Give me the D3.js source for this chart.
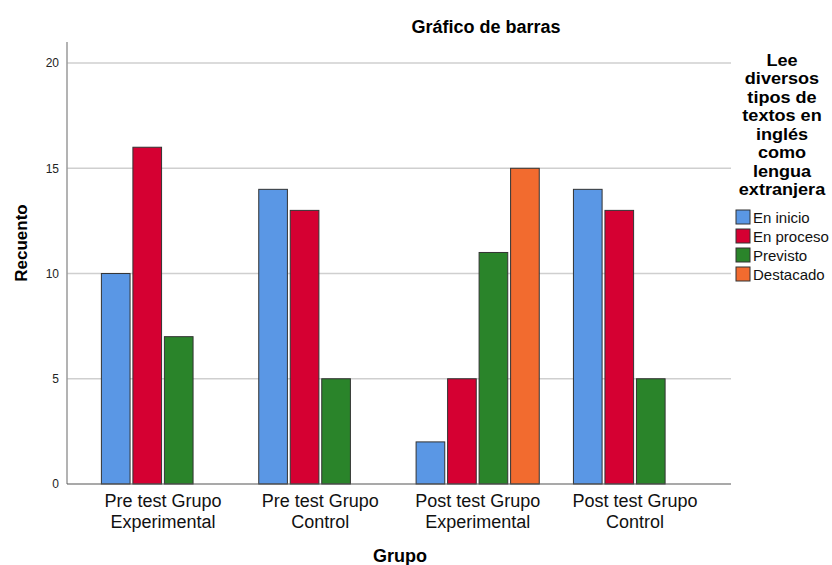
<!DOCTYPE html>
<html><head><meta charset="utf-8">
<script src="https://cdn.jsdelivr.net/npm/d3@7"></script>
<style>body{margin:0;background:#fff}svg{display:block;font-family:"Liberation Sans",Arial,sans-serif}</style>
</head><body><svg id="c" width="832" height="565"></svg>
<script>
const categories = [["Pre test Grupo","Experimental"],["Pre test Grupo","Control"],["Post test Grupo","Experimental"],["Post test Grupo","Control"]];
const seriesNames = ["En inicio","En proceso","Previsto","Destacado"];
const enInicio = [10,14,2,14];
const enProceso = [16,13,5,13];
const previsto = [7,5,11,5];
const destacado = [null,null,15,null];
const seriesValues = [enInicio,enProceso,previsto,destacado];
const colors = ["#5A97E5","#D50032","#2A842A","#F26B2F"];
const yTicks = [0,5,10,15,20];
const legendTitle = ["Lee","diversos","tipos de","textos en","inglés","como","lengua","extranjera"];

const svg = d3.select("#c");
const L=67, R=731, T=42, B=484;
const y = d3.scaleLinear().domain([0,21]).range([B,T]);
const x = d3.scalePoint().domain(d3.range(categories.length)).range([L,R]).padding(0.61);
const slot = d3.scaleBand().domain(d3.range(4)).range([-63,63]).paddingInner(0.09).paddingOuter(0.045);

// gridlines
svg.append("g").selectAll("line").data(yTicks.filter(d=>d>0)).join("line")
  .attr("x1",L).attr("x2",R).attr("y1",d=>y(d)).attr("y2",d=>y(d))
  .attr("stroke","#cfcfcf").attr("stroke-width",1.5);

// y axis
const ya = svg.append("g").attr("transform",`translate(${L},0)`)
  .call(d3.axisLeft(y).tickValues(yTicks).tickSize(0).tickPadding(8));
ya.select(".domain").remove();
ya.selectAll("text").attr("font-size",12).attr("fill","#222").attr("font-family","Liberation Sans, Arial");
svg.append("line").attr("x1",L).attr("x2",L).attr("y1",T).attr("y2",B).attr("stroke","#9a9a9a").attr("stroke-width",1.5);

// bars
const bars=[];
seriesValues.forEach((vals,si)=>vals.forEach((v,ci)=>{ if(v!=null) bars.push({si,ci,v}); }));
svg.append("g").selectAll("rect").data(bars).join("rect")
  .attr("x",d=>x(d.ci)+slot(d.si)).attr("width",slot.bandwidth())
  .attr("y",d=>y(d.v)).attr("height",d=>y(0)-y(d.v))
  .attr("fill",d=>colors[d.si]).attr("stroke","#333").attr("stroke-width",1);

// x axis line
svg.append("line").attr("x1",L).attr("x2",R).attr("y1",B).attr("y2",B).attr("stroke","#555").attr("stroke-width",1.2);

// category labels
const xl = svg.append("g");
categories.forEach((c,i)=>{
  const t = xl.append("text").attr("text-anchor","middle").attr("font-size",18).attr("fill","#111");
  c.forEach((line,j)=>t.append("tspan").attr("x",x(i)).attr("y",507+j*21).text(line));
});

// axis titles
svg.append("text").attr("x",400).attr("y",562).attr("text-anchor","middle").attr("font-size",18).attr("font-weight","bold").text("Grupo");
svg.append("text").attr("transform","translate(27,243) rotate(-90)").attr("text-anchor","middle").attr("font-size",17).attr("font-weight","bold").text("Recuento");
svg.append("text").attr("x",486).attr("y",33).attr("text-anchor","middle").attr("font-size",18).attr("font-weight","bold").text("Gráfico de barras");

// legend
const ltg = svg.append("g").attr("transform","translate(782,0) scale(1.13,1)");
ltg.selectAll("text").data(legendTitle).join("text")
  .attr("x",0).attr("y",(d,i)=>66+i*18.5).attr("text-anchor","middle")
  .attr("font-size",16).attr("font-weight","bold").text(d=>d);
const lg = svg.append("g").selectAll("g").data(seriesNames).join("g")
  .attr("transform",(d,i)=>`translate(736,${210+i*19})`);
lg.append("rect").attr("width",14).attr("height",14).attr("fill",(d,i)=>colors[i]).attr("stroke","#333");
lg.append("text").attr("x",17).attr("y",13).attr("font-size",15).attr("fill","#111").text(d=>d);
</script></body></html>
